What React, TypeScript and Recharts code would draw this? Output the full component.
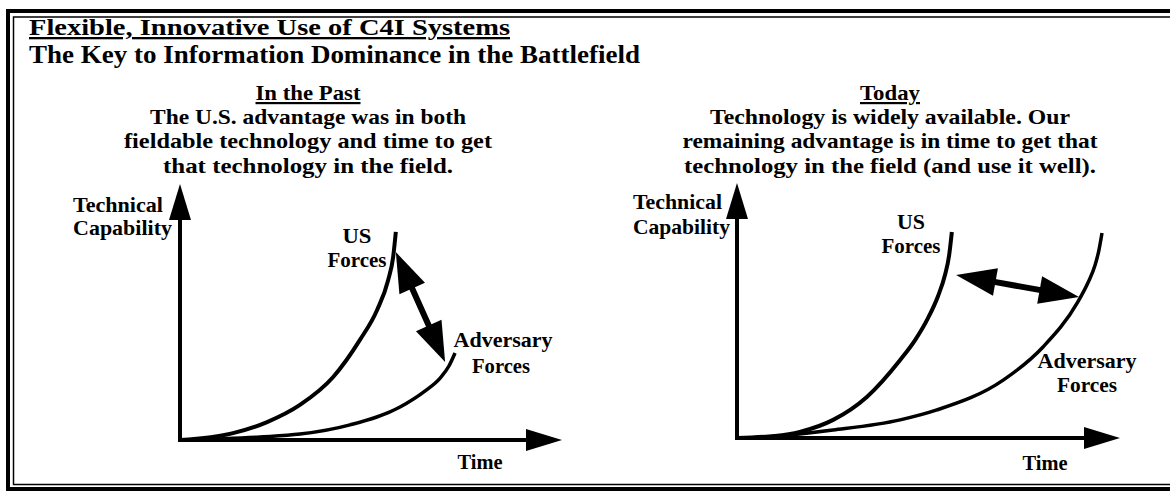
import { LineChart, Line, XAxis, YAxis, ReferenceLine } from 'recharts';

// time (0-100) vs technical capability (0-100)
const pastUs = [
  { x: 0, y: 0 }, { x: 13.9, y: 2.7 }, { x: 22.8, y: 7.0 }, { x: 31.4, y: 13.7 },
  { x: 40.1, y: 24.6 }, { x: 47.1, y: 39.1 }, { x: 51.6, y: 50.8 }, { x: 54.5, y: 62.5 },
  { x: 55.8, y: 71.5 }, { x: 56.5, y: 81.3 },
];
const pastAdversary = [
  { x: 0, y: 0 }, { x: 20.9, y: 1.2 }, { x: 31.4, y: 2.3 }, { x: 44.5, y: 5.9 },
  { x: 57.6, y: 12.9 }, { x: 64.1, y: 19.1 }, { x: 68.1, y: 24.2 }, { x: 70.4, y: 28.9 },
  { x: 72.0, y: 34.0 },
];
const todayUs = [
  { x: 0, y: 0 }, { x: 9.9, y: 0.8 }, { x: 16.4, y: 2.4 }, { x: 25.1, y: 7.1 },
  { x: 33.9, y: 16.1 }, { x: 42.6, y: 30.6 }, { x: 46.5, y: 38.4 }, { x: 49.9, y: 47.1 },
  { x: 52.5, y: 55.7 }, { x: 54.3, y: 63.9 }, { x: 55.4, y: 71.8 }, { x: 56.1, y: 80.8 },
];
const todayAdversary = [
  { x: 0, y: 0 }, { x: 7.8, y: 0.4 }, { x: 25.1, y: 3.1 }, { x: 42.6, y: 7.1 },
  { x: 52.2, y: 11.0 }, { x: 69.5, y: 22.7 }, { x: 79.9, y: 35.7 }, { x: 88.8, y: 52.9 },
  { x: 91.6, y: 60.8 }, { x: 93.5, y: 67.8 }, { x: 94.5, y: 73.7 }, { x: 95.3, y: 80.4 },
];
// the "advantage" double arrows
const pastGap = [{ x: 56.5, y: 73.4 }, { x: 69.4, y: 30.5 }];
const todayGap = [{ x: 57.2, y: 63.9 }, { x: 89.3, y: 55.3 }];
const axisMax = 100;

const FONT = "'Book Antiqua', Palatino, 'Liberation Serif', serif";

function arrow(opts: { start: boolean; end: boolean; w: number; len: number; half: number }) {
  return (p: any) => {
    const { x1, y1, x2, y2 } = p;
    const dx = x2 - x1;
    const dy = y2 - y1;
    const l = Math.hypot(dx, dy) || 1;
    const ux = dx / l;
    const uy = dy / l;
    const nx = -uy;
    const ny = ux;
    const head = (tx: number, ty: number, dir: number) => {
      const bx = tx - dir * ux * opts.len;
      const by = ty - dir * uy * opts.len;
      return `${tx},${ty} ${bx + nx * opts.half},${by + ny * opts.half} ${bx - nx * opts.half},${by - ny * opts.half}`;
    };
    const sx = opts.start ? x1 + ux * opts.len * 0.8 : x1;
    const sy = opts.start ? y1 + uy * opts.len * 0.8 : y1;
    const ex = opts.end ? x2 - ux * opts.len * 0.8 : x2;
    const ey = opts.end ? y2 - uy * opts.len * 0.8 : y2;
    return (
      <g>
        <line x1={sx} y1={sy} x2={ex} y2={ey} stroke="#000" strokeWidth={opts.w} strokeLinecap="square" />
        {opts.start ? <polygon points={head(x1, y1, -1)} fill="#000" /> : null}
        {opts.end ? <polygon points={head(x2, y2, 1)} fill="#000" /> : null}
      </g>
    );
  };
}

const axisArrow = arrow({ start: false, end: true, w: 4, len: 36, half: 11 });
const gapArrow = arrow({ start: true, end: true, w: 6, len: 40, half: 14 });

function Panel({ us, adversary, gap, margin }: any) {
  return (
    <LineChart width={585} height={494} margin={margin}>
      <XAxis type="number" dataKey="x" domain={[0, axisMax]} allowDataOverflow hide />
      <YAxis type="number" dataKey="y" domain={[0, axisMax]} allowDataOverflow hide />
      <ReferenceLine segment={[{ x: 0, y: 0 }, { x: axisMax, y: 0 }]} shape={axisArrow} ifOverflow="visible" />
      <ReferenceLine segment={[{ x: 0, y: 0 }, { x: 0, y: axisMax }]} shape={axisArrow} ifOverflow="visible" />
      <Line data={us} dataKey="y" type="monotone" stroke="#000" strokeWidth={4} dot={false} isAnimationActive={false} />
      <Line data={adversary} dataKey="y" type="monotone" stroke="#000" strokeWidth={3.5} dot={false} isAnimationActive={false} />
      <ReferenceLine segment={gap} shape={gapArrow} ifOverflow="visible" />
    </LineChart>
  );
}

const T = ({ w, ...props }: any) => (
  <text
    fontFamily={FONT}
    fontWeight="bold"
    fontSize={22}
    fill="#000"
    textLength={w}
    lengthAdjust="spacingAndGlyphs"
    {...props}
  />
);

export default function App() {
  return (
    <div style={{ position: 'absolute', left: 0, top: 0, width: 1170, height: 494, background: '#fff', overflow: 'hidden' }}>
      <svg width={1170} height={494} style={{ position: 'absolute', left: 0, top: 0 }}>
        <rect x={8} y={11} width={1200} height={478} fill="none" stroke="#000" strokeWidth={4} />
        <rect x={13.5} y={17} width={1200} height={467.5} fill="none" stroke="#000" strokeWidth={1.5} />

        <T x={29} y={35} fontSize={23} w={481} style={{ textDecoration: 'underline' }}>Flexible, Innovative Use of C4I Systems</T>
        <T x={29} y={63} fontSize={25} w={611}>The Key to Information Dominance in the Battlefield</T>

        <T x={308} y={100} textAnchor="middle" w={105} style={{ textDecoration: 'underline' }}>In the Past</T>
        <T x={308} y={124} textAnchor="middle" w={316}>The U.S. advantage was in both</T>
        <T x={308} y={148} textAnchor="middle" w={368}>fieldable technology and time to get</T>
        <T x={308} y={173} textAnchor="middle" w={290}>that technology in the field.</T>

        <T x={890} y={100} textAnchor="middle" w={60} style={{ textDecoration: 'underline' }}>Today</T>
        <T x={890} y={124} textAnchor="middle" w={360}>Technology is widely available.  Our</T>
        <T x={890} y={148} textAnchor="middle" w={415}>remaining advantage is in time to get that</T>
        <T x={890} y={173} textAnchor="middle" w={412}>technology in the field (and use it well).</T>

        <T x={73} y={212} fontSize={21} w={90}>Technical</T>
        <T x={73} y={235} fontSize={21} w={99}>Capability</T>
        <T x={357} y={243} fontSize={21} w={29} textAnchor="middle">US</T>
        <T x={357} y={267} fontSize={21} w={59} textAnchor="middle">Forces</T>
        <T x={503} y={347} fontSize={21} w={99} textAnchor="middle">Adversary</T>
        <T x={501} y={373} fontSize={21} w={58} textAnchor="middle">Forces</T>
        <T x={480} y={469} fontSize={21} w={45} textAnchor="middle">Time</T>

        <T x={633} y={209} fontSize={21} w={89}>Technical</T>
        <T x={633} y={234} fontSize={21} w={97}>Capability</T>
        <T x={911} y={229} fontSize={21} w={28} textAnchor="middle">US</T>
        <T x={911} y={253} fontSize={21} w={59} textAnchor="middle">Forces</T>
        <T x={1087} y={368} fontSize={21} w={99} textAnchor="middle">Adversary</T>
        <T x={1087} y={392} fontSize={21} w={60} textAnchor="middle">Forces</T>
        <T x={1045} y={470} fontSize={21} w={45} textAnchor="middle">Time</T>
      </svg>
      <div style={{ position: 'absolute', left: 0, top: 0 }}>
        <Panel us={pastUs} adversary={pastAdversary} gap={pastGap} margin={{ top: 184, right: 23, bottom: 54, left: 180 }} />
      </div>
      <div style={{ position: 'absolute', left: 585, top: 0 }}>
        <Panel us={todayUs} adversary={todayAdversary} gap={todayGap} margin={{ top: 183, right: 50, bottom: 56, left: 152 }} />
      </div>
    </div>
  );
}
